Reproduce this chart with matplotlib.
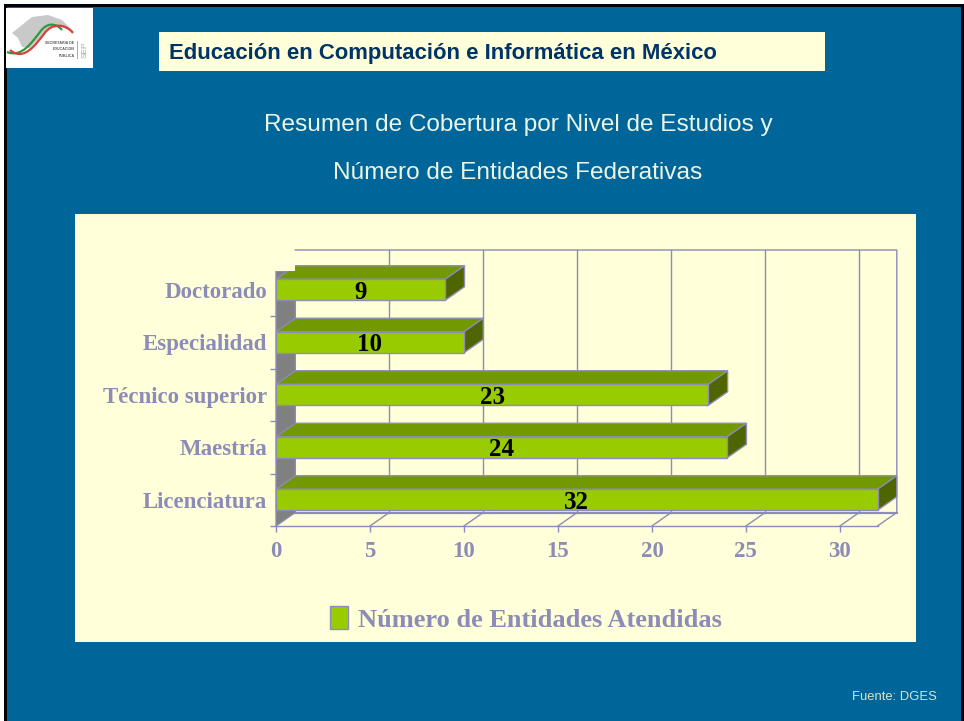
import matplotlib
matplotlib.use("Agg")
import matplotlib.pyplot as plt
from matplotlib.patches import Rectangle, Polygon, PathPatch, Patch
from matplotlib.path import Path

categories = ["Licenciatura", "Maestría", "Técnico superior", "Especialidad", "Doctorado"]
values = [32, 24, 23, 10, 9]
x_ticks = [0, 5, 10, 15, 20, 25, 30]
legend_label = "Número de Entidades Atendidas"

title = "Educación en Computación e Informática en México"
subtitle = ["Resumen de Cobertura por Nivel de Estudios y", "Número de Entidades Federativas"]
source = "Fuente: DGES"

BLUE = "#006699"
PANEL = "#FFFFD9"
LINE = "#8C8CB8"
FRONT = "#99CC00"
TOP = "#739900"
SIDE = "#4F6600"
WALL = "#808080"
SERIF = "Liberation Serif"
SANS = "Liberation Sans"

W, H = 964, 721
fig = plt.figure(figsize=(W / 100, H / 100), dpi=100, facecolor="white")

# slide decoration, in pixels
bg = fig.add_axes([0, 0, 1, 1])
bg.set_xlim(0, W)
bg.set_ylim(H, 0)
bg.axis("off")
bg.add_patch(Rectangle((4, 4), W - 4, H - 4, fc="black", lw=0))
bg.add_patch(Rectangle((7, 7), 954, H - 7, fc=BLUE, lw=0))
bg.add_patch(Rectangle((159, 32), 666, 39, fc=PANEL, lw=0))
bg.add_patch(Rectangle((75, 214), 841, 428, fc=PANEL, lw=0))
bg.text(169, 53, title, fontsize=15.9, fontweight="bold", family=SANS, color="#003366", va="center")
bg.text(518, 125, subtitle[0], fontsize=17.6, family=SANS, color="#EEF4E4", ha="center", va="center")
bg.text(518, 173, subtitle[1], fontsize=17.6, family=SANS, color="#EEF4E4", ha="center", va="center")
bg.text(937, 697, source, fontsize=9.4, family=SANS, color="#D5E4D0", ha="right", va="center")

# logo
bg.add_patch(Rectangle((6, 8), 87, 60, fc="white", lw=0))
bg.add_patch(Polygon([(12, 33), (22, 25), (32, 17), (48, 15), (62, 20), (73, 31), (60, 27), (50, 28),
                      (40, 38), (30, 48), (22, 47), (18, 38)], fc="#C9C9C9", ec="none"))
green = Path([(7, 52), (22, 58), (32, 42), (40, 32), (47, 22), (56, 23), (62, 30)],
             [Path.MOVETO] + [Path.CURVE4] * 6)
red = Path([(10, 50), (24, 62), (36, 44), (44, 34), (52, 22), (66, 24), (73, 33)],
           [Path.MOVETO] + [Path.CURVE4] * 6)
bg.add_patch(PathPatch(green, fc="none", ec="#2E9A3E", lw=1.6))
bg.add_patch(PathPatch(red, fc="none", ec="#D8403A", lw=1.6))
for y, t in zip([43, 49, 56], ["SECRETARIA DE", "EDUCACION", "PUBLICA"]):
    bg.text(74.5, y, t, fontsize=2.6, family=SANS, fontweight="bold", color="#555555", ha="right", va="center")
bg.plot([77, 77], [41, 58], color="#999999", lw=0.6)
bg.text(85, 50, "SEP", fontsize=6, family=SANS, color="#A8A8A8", rotation=90, ha="center", va="center")

# chart: front plane is 276..877 px wide, 526..263.5 px tall
ax = fig.add_axes([276 / W, 1 - 526 / H, 601.5 / W, 262.5 / H])
ax.patch.set_alpha(0)
ax.set_xlim(0, 32)
ax.set_ylim(-0.5, 4.5)
dx = 19.3 / (601.5 / 32)
dy = 13.5 / 52.5
bar_h = 0.4
y_pos = list(range(len(categories)))

# back wall
wall_top = 4.357
ax.add_patch(Polygon([(0, -0.5), (dx, -0.5 + dy), (dx, wall_top), (0, wall_top)], fc=WALL, ec=LINE,
                     lw=1, clip_on=False, zorder=2))
# grid on back plane and floor
for t in x_ticks[1:]:
    ax.plot([t + dx, t + dx], [-0.5 + dy, 4.5 + dy], color=LINE, lw=1, clip_on=False, zorder=1)
    ax.plot([t, t + dx], [-0.5, -0.5 + dy], color=LINE, lw=1, clip_on=False, zorder=1)
ax.plot([32, 32 + dx, 32 + dx, dx], [-0.5, -0.5 + dy, 4.5 + dy, 4.5 + dy], color=LINE, lw=1, clip_on=False, zorder=1)
ax.plot([dx, 32 + dx], [-0.5 + dy, -0.5 + dy], color=LINE, lw=1.6, clip_on=False, zorder=1)

# bars, back to front
for i in reversed(y_pos):
    v = values[i]
    lo, hi = i - bar_h / 2, i + bar_h / 2
    z = 10 + (len(categories) - i)
    ax.add_patch(Polygon([(0, hi), (dx, hi + dy), (v + dx, hi + dy), (v, hi)], fc=TOP, ec=LINE, lw=1,
                         clip_on=False, zorder=z))
    ax.add_patch(Polygon([(v, lo), (v + dx, lo + dy), (v + dx, hi + dy), (v, hi)], fc=SIDE, ec=LINE, lw=1,
                         clip_on=False, zorder=z))
    ax.barh(i, v, height=bar_h, color=FRONT, edgecolor=LINE, lw=1, zorder=z, clip_on=False,
            label=legend_label if i == 0 else None)
    ax.text(v / 2, i - 0.045, str(v), fontsize=18, fontweight="bold", family=SERIF, color="black",
            ha="center", va="center", zorder=30, clip_on=False)

# the source image clips the corner of the top bar at the wall's top edge
ax.add_patch(Rectangle((-0.05, wall_top), dx + 0.03, 0.2, fc=PANEL, lw=0, zorder=25, clip_on=False))

for s in ["top", "right", "left"]:
    ax.spines[s].set_visible(False)
ax.spines["bottom"].set_color(LINE)
ax.spines["bottom"].set_linewidth(1)
ax.set_xticks(x_ticks)
ax.set_xticklabels([str(t) for t in x_ticks], fontsize=16.5, fontweight="bold", family=SERIF, color=LINE)
ax.tick_params(axis="x", length=4, width=1, color=LINE, pad=7)
ax.set_yticks(y_pos)
ax.set_yticklabels(categories, fontsize=16.5, fontweight="bold", family=SERIF, color=LINE)
ax.tick_params(axis="y", which="major", length=0, pad=6.5)
ax.set_yticks([-0.5, 0.5, 1.5, 2.5, 3.5], minor=True)
ax.tick_params(axis="y", which="minor", length=4.5, width=1, color=LINE)

handles = [Patch(fc=FRONT, ec=LINE, lw=1)]
leg = ax.legend(handles, [legend_label], loc="center", bbox_to_anchor=(526 / W, 1 - 619 / H),
                bbox_transform=fig.transFigure, frameon=False, handlelength=0.68, handleheight=0.95,
                handletextpad=0.35, borderpad=0,
                prop={"family": SERIF, "weight": "bold", "size": 19})
leg.get_texts()[0].set_color(LINE)

plt.savefig("out.png", dpi=100, facecolor=fig.get_facecolor())
